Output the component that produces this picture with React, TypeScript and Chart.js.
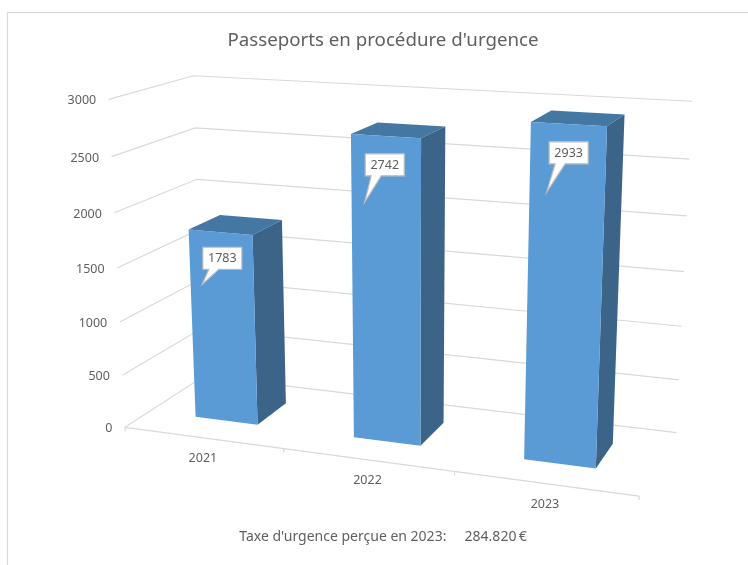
import React, { useEffect, useRef } from "react";
import { Chart, registerables } from "chart.js";

Chart.register(...registerables);

const categories = ["2021", "2022", "2023"];
const passports = [1783, 2742, 2933];
const valueTicks = [0, 500, 1000, 1500, 2000, 2500, 3000];
const chartTitle = "Passeports en procédure d'urgence";
const footerText = "Taxe d'urgence perçue en 2023:     284.820\u2009€";

// Camera calibration: world (x, value fraction, depth) -> screen position
const CAMERA: number[][] = [
  [0, 0, 0, 125, 427],
  [0, 1, 0, 109, 99],
  [0, 0.5, 0, 117, 268],
  [0, 0, 1, 204, 376],
  [0, 1, 1, 193, 76],
  [1, 0, 1, 676.7, 432.3],
  [1, 1, 1, 692, 101.3],
  [1, 0.5, 1, 684, 271.7],
  [1, 0, 0, 639, 495.7],
  [1 / 3, 0, 0, 284, 449],
  [2 / 3, 0, 0, 454, 472],
];

function solve(A: number[][], b: number[]): number[] {
  const n = b.length;
  const M = A.map((r, i) => [...r, b[i]]);
  for (let c = 0; c < n; c++) {
    let p = c;
    for (let r = c + 1; r < n; r++) if (Math.abs(M[r][c]) > Math.abs(M[p][c])) p = r;
    [M[c], M[p]] = [M[p], M[c]];
    for (let r = 0; r < n; r++) {
      if (r === c) continue;
      const f = M[r][c] / M[c][c];
      for (let k = c; k <= n; k++) M[r][k] -= f * M[c][k];
    }
  }
  return M.map((r, i) => r[n] / r[i]);
}

function fitCamera(points: number[][]): number[] {
  const rows: number[][] = [];
  const rhs: number[] = [];
  for (const [x, y, z, u, v] of points) {
    rows.push([x, y, z, 1, 0, 0, 0, 0, -u * x, -u * y, -u * z]);
    rhs.push(u);
    rows.push([0, 0, 0, 0, x, y, z, 1, -v * x, -v * y, -v * z]);
    rhs.push(v);
  }
  const n = 11;
  const AtA = Array.from({ length: n }, (_, i) =>
    Array.from({ length: n }, (_, j) => rows.reduce((s, r) => s + r[i] * r[j], 0))
  );
  const Atb = Array.from({ length: n }, (_, i) => rows.reduce((s, r, k) => s + r[i] * rhs[k], 0));
  return solve(AtA, Atb);
}

const cam = fitCamera(CAMERA);
function project(x: number, y: number, z: number): [number, number] {
  const w = cam[8] * x + cam[9] * y + cam[10] * z + 1;
  return [
    (cam[0] * x + cam[1] * y + cam[2] * z + cam[3]) / w,
    (cam[4] * x + cam[5] * y + cam[6] * z + cam[7]) / w,
  ];
}

const DEPTH_FRONT = 0.3;
const DEPTH_BACK = 0.7;
const TEXT = "#606060";
const GRID = "#d9d9d9";
const FRONT = "#5B9BD5";
const TOP = "#4577A3";
const SIDE = "#3B6488";
const FONT = '"Noto Sans", sans-serif';
const CALLOUTS = [
  { boxDx: 2, boxDy: 26, dx: -18, dy: 52 },
  { boxDx: -1, boxDy: 28.7, dx: -21, dy: 66 },
  { boxDx: 0, boxDy: 28.7, dx: -22, dy: 68 },
];

function poly(ctx: CanvasRenderingContext2D, pts: [number, number][], fill: string) {
  ctx.beginPath();
  pts.forEach((p, i) => (i ? ctx.lineTo(p[0], p[1]) : ctx.moveTo(p[0], p[1])));
  ctx.closePath();
  ctx.fillStyle = fill;
  ctx.fill();
}

const perspective3D = {
  id: "perspective3D",
  beforeDraw(chart: any) {
    const { ctx, chartArea: a } = chart;
    const yScale = chart.scales.y;
    const xScale = chart.scales.x;
    const vy = (v: number) => (yScale.bottom - yScale.getPixelForValue(v)) / (yScale.bottom - yScale.top);
    ctx.save();
    // frame
    ctx.strokeStyle = GRID;
    ctx.lineWidth = 1.2;
    ctx.beginPath();
    ctx.moveTo(7.5, 580);
    ctx.lineTo(7.5, 12.5);
    ctx.lineTo(760, 12.5);
    ctx.stroke();

    // walls' gridlines
    ctx.strokeStyle = GRID;
    ctx.lineWidth = 1.2;
    ctx.font = `12.5px ${FONT}`;
    ctx.textAlign = "right";
    ctx.textBaseline = "middle";
    yScale.ticks.forEach((t: any) => {
      const y = vy(t.value);
      const f = project(0, y, 0);
      const b = project(0, y, 1);
      const r = project(1, y, 1);
      ctx.beginPath();
      ctx.moveTo(f[0], f[1]);
      ctx.lineTo(b[0], b[1]);
      ctx.lineTo(r[0], r[1]);
      ctx.stroke();
      ctx.fillStyle = TEXT;
      ctx.fillText(String(t.value), f[0] - 12.5, f[1] + 1.5);
    });

    // floor front edge and category ticks
    const p0 = project(0, 0, 0);
    const p1 = project(1, 0, 0);
    ctx.beginPath();
    ctx.moveTo(p0[0], p0[1]);
    ctx.lineTo(p1[0], p1[1]);
    for (let i = 0; i <= categories.length; i++) {
      const t = project(i / categories.length, 0, 0);
      ctx.moveTo(t[0], t[1]);
      ctx.lineTo(t[0], t[1] + 4);
    }
    ctx.stroke();

    // category labels
    ctx.textAlign = "center";
    ctx.fillStyle = TEXT;
    categories.forEach((c, i) => {
      const u = (xScale.getPixelForValue(i) - a.left) / (a.right - a.left);
      const p = project(u, 0, 0);
      ctx.fillText(c, p[0], p[1] + 20.5);
    });
    ctx.restore();
  },
  beforeDatasetDraw(chart: any, args: any) {
    const { ctx, chartArea: a } = chart;
    const yScale = chart.scales.y;
    const meta = chart.getDatasetMeta(args.index);
    const ux = (px: number) => (px - a.left) / (a.right - a.left);
    const uy = (py: number) => (yScale.bottom - py) / (yScale.bottom - yScale.top);
    ctx.save();
    const tops: [number, number][] = [];
    meta.data.forEach((bar: any) => {
      const x0 = ux(bar.x - bar.width / 2);
      const x1 = ux(bar.x + bar.width / 2);
      const y0 = uy(bar.base);
      const y1 = uy(bar.y);
      const [z0, z1] = [DEPTH_FRONT, DEPTH_BACK];
      poly(ctx, [project(x0, y1, z0), project(x1, y1, z0), project(x1, y1, z1), project(x0, y1, z1)], TOP);
      poly(ctx, [project(x1, y0, z0), project(x1, y0, z1), project(x1, y1, z1), project(x1, y1, z0)], SIDE);
      poly(ctx, [project(x0, y0, z0), project(x1, y0, z0), project(x1, y1, z0), project(x0, y1, z0)], FRONT);
      tops.push(project((x0 + x1) / 2, y1, z0));
    });
    // callouts
    ctx.font = `12.5px ${FONT}`;
    ctx.textAlign = "center";
    ctx.textBaseline = "middle";
    meta.data.forEach((_: any, i: number) => {
      const [tx, ty] = tops[i];
      const c = CALLOUTS[i];
      const cx = tx + c.boxDx;
      const cy = ty + c.boxDy;
      const w = 39;
      const h = 22;
      const l = cx - w / 2;
      const t = cy - h / 2;
      ctx.beginPath();
      ctx.moveTo(l, t);
      ctx.lineTo(l + w, t);
      ctx.lineTo(l + w, t + h);
      ctx.lineTo(l + 16, t + h);
      ctx.lineTo(tx + c.dx, ty + c.dy);
      ctx.lineTo(l + 6, t + h);
      ctx.lineTo(l, t + h);
      ctx.closePath();
      ctx.fillStyle = "#ffffff";
      ctx.fill();
      ctx.strokeStyle = "#bfbfbf";
      ctx.lineWidth = 1.2;
      ctx.stroke();
      ctx.fillStyle = TEXT;
      ctx.fillText(String(passports[i]), cx, cy + 0.5);
    });
    ctx.restore();
    return false;
  },
};

export default function App() {
  const ref = useRef<HTMLCanvasElement>(null);
  useEffect(() => {
    const chart = new Chart(ref.current!, {
      type: "bar",
      data: {
        labels: categories,
        datasets: [{ label: "Passeports", data: passports, barPercentage: 0.4, categoryPercentage: 1 }],
      },
      options: {
        animation: false,
        responsive: false,
        devicePixelRatio: 1,
        layout: { padding: { left: 18, top: 29, bottom: 20 } },
        plugins: {
          legend: { display: false },
          tooltip: { enabled: false },
          title: {
            display: true,
            text: chartTitle,
            color: TEXT,
            font: { family: FONT, size: 18.7, weight: "normal" },
            padding: { top: 0, bottom: 10 },
          },
          subtitle: {
            display: true,
            position: "bottom",
            text: footerText,
            color: TEXT,
            font: { family: FONT, size: 14, weight: "normal" },
            padding: 0,
          },
        },
        scales: {
          x: { display: false },
          y: {
            display: false,
            min: valueTicks[0],
            max: valueTicks[valueTicks.length - 1],
            ticks: { stepSize: valueTicks[1] - valueTicks[0] },
          },
        },
      },
      plugins: [perspective3D],
    } as any);
    return () => chart.destroy();
  }, []);
  return (
    <div style={{ position: "fixed", left: 0, top: 0, width: 748, height: 565, background: "#fff" }}>
      <canvas ref={ref} width={748} height={565} style={{ display: "block" }} />
    </div>
  );
}
